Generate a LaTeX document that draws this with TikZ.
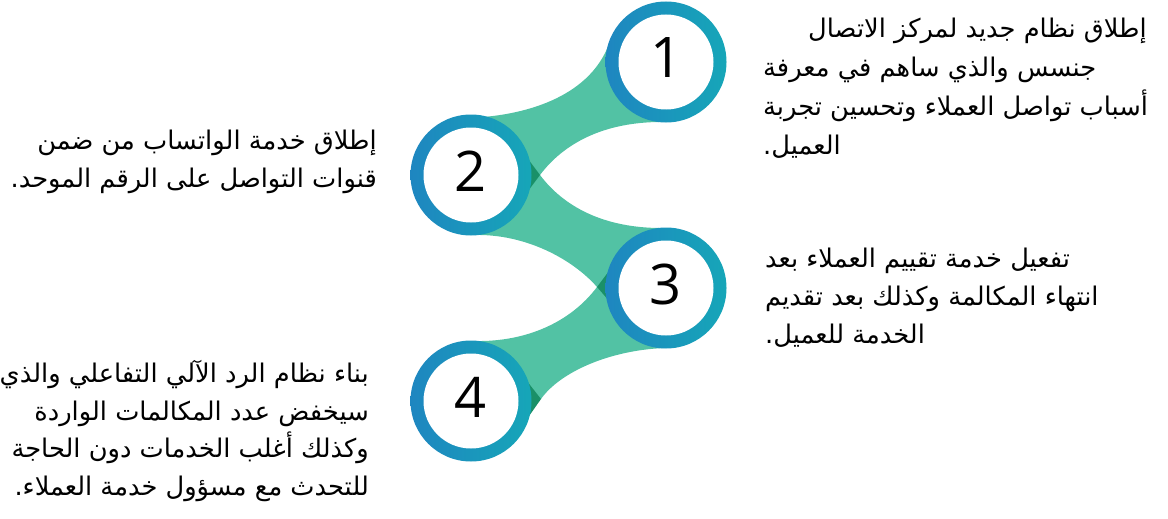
\documentclass[tikz,border=0pt]{standalone}
\usepackage{fontspec}
\usetikzlibrary{calc}
\newfontfamily\arabicfont[Script=Arabic]{DejaVu Sans}
\newfontfamily\numfont{Open Sans}
\TeXXeTstate=1
\definecolor{ringL}{HTML}{1E86C0}
\definecolor{ringR}{HTML}{16A6B8}
\definecolor{bandc}{HTML}{52C2A4}
\definecolor{foldc}{HTML}{1A9068}
\begin{document}
\begin{tikzpicture}[x=1pt,y=-1pt,
  ar/.style={font=\arabicfont\fontsize{25.7}{32}\selectfont, inner sep=0pt},
  arL/.style={ar, anchor=base west},
  arR/.style={ar, anchor=base east},
  num/.style={font=\numfont\fontsize{56}{60}\selectfont, inner sep=0pt, text=black},
  bandfill/.style={fill=bandc},
  foldfill/.style={fill=foldc},
  ringdisk/.style={left color=ringL, right color=ringR},
]
\useasboundingbox (0,0) rectangle (1168,519);
\coordinate (c1) at (666,62);
\coordinate (c2) at (471,175);
\coordinate (c3) at (666,288);
\coordinate (c4) at (471,401);
% bands
\fill[bandfill] (665,122) .. controls (590,121) and (555,155) .. (540,175) -- (c2) -- (483,117) .. controls (520,114) and (588,100) .. (609,44) -- (c1) -- cycle;
\fill[bandfill] (475,235) .. controls (525,234) and (572,258.5) .. (597,287) -- (c3) -- (665,228) .. controls (590,229) and (555,195) .. (540,175) -- (c2) -- cycle;
\fill[bandfill] (597,287) .. controls (570,323) and (525,342) .. (475,341) -- (c4) -- (541,399) .. controls (560,372) and (610,350) .. (665,348) -- (c3) -- cycle;
% folds
\fill[foldfill] (540,175) -- (525,155) -- (525,195) -- cycle;
\fill[foldfill] (597,287) -- (615,263) -- (617,310) -- cycle;
\fill[foldfill] (541,399) -- (525.5,379.3) -- (526.6,419.5) -- cycle;
% rings
\foreach \c in {c1,c2,c3,c4}{
  \path[ringdisk] (\c) circle[radius=60.5pt];
  \fill[white] (\c) circle[radius=47.5pt];
}
\node[num] (n1) at ($(c1)+(1,-4)$) {1};
\node[num] (n2) at ($(c2)+(0,-4)$) {2};
\node[num] (n3) at ($(c3)+(0,-4)$) {3};
\node[num] (n4) at ($(c4)+(0,-4)$) {4};
% texts
\node[arL] (p1a) at (808,38) {\beginR إطلاق نظام جديد لمركز الاتصال\endR};
\node[arL] (p1b) at (763,77) {\beginR جنسس والذي ساهم في معرفة\endR};
\node[arL] (p1c) at (763,115) {\beginR أسباب تواصل العملاء وتحسين تجربة\endR};
\node[arL] (p1d) at (763,154) {\beginR العميل.\endR};
\node[arR] (p2a) at (377,149) {\beginR إطلاق خدمة الواتساب من ضمن\endR};
\node[arR] (p2b) at (377,187) {\beginR قنوات التواصل على الرقم الموحد.\endR};
\node[arL] (p3a) at (765,267) {\beginR تفعيل خدمة تقييم العملاء بعد\endR};
\node[arL] (p3b) at (765,305) {\beginR انتهاء المكالمة وكذلك بعد تقديم\endR};
\node[arL] (p3c) at (765,343) {\beginR الخدمة للعميل.\endR};
\node[arR] (p4a) at (369,382) {\beginR بناء نظام الرد الآلي التفاعلي والذي\endR};
\node[arR] (p4b) at (369,420) {\beginR سيخفض عدد المكالمات الواردة\endR};
\node[arR] (p4c) at (369,457) {\beginR وكذلك أغلب الخدمات دون الحاجة\endR};
\node[arR] (p4d) at (369,495) {\beginR للتحدث مع مسؤول خدمة العملاء.\endR};
\end{tikzpicture}
\end{document}
